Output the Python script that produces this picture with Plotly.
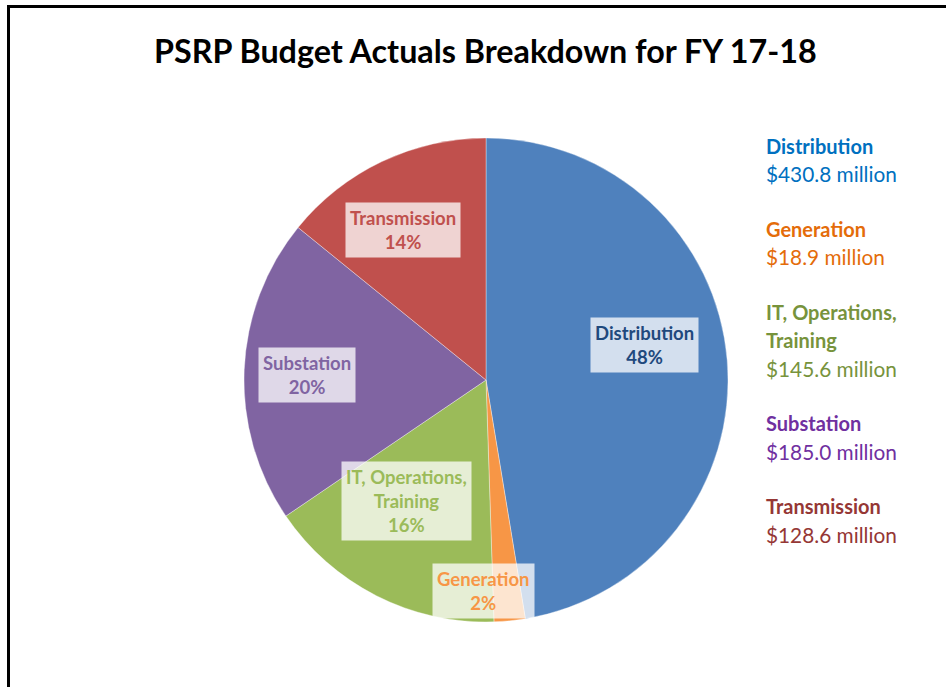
import math
import plotly.graph_objects as go

# ---- data ----
categories = ["Distribution", "Generation", "IT, Operations,<br>Training", "Substation", "Transmission"]
amounts_musd = [430.8, 18.9, 145.6, 185.0, 128.6]
percent_labels = ["48%", "2%", "16%", "20%", "14%"]

# ---- style ----
slice_colors = ["#4F81BD", "#F79646", "#9BBB59", "#8064A2", "#C0504D"]
label_text_colors = ["#1F497D", "#F79646", "#9BBB59", "#8064A2", "#C0504D"]
legend_colors = ["#0070C0", "#E46C0A", "#77933C", "#7030A0", "#953735"]
# label placement tweaks (radius fraction, angular nudge in degrees)
label_radius = [0.67, 0.87, 0.60, 0.74, 0.71]
label_nudge = [-7.7, 6.4, 6.4, -0.8, -3.5]

W, H = 952, 687
FONT = "Lato"

def px(x):
    return x / W

def py(y):
    return 1 - y / H

cx, cy, R = 486, 380, 242

fig = go.Figure()
fig.add_trace(go.Pie(
    labels=categories,
    values=amounts_musd,
    sort=False,
    direction="clockwise",
    rotation=0,
    marker=dict(colors=slice_colors, line=dict(color="rgba(255,255,255,0.6)", width=0.6)),
    textinfo="none",
    hoverinfo="label+value+percent",
    showlegend=False,
    domain=dict(x=[px(cx - R), px(cx + R)], y=[py(cy + R), py(cy - R)]),
))

annotations = []
total = sum(amounts_musd)
cum = 0.0
for i, v in enumerate(amounts_musd):
    mid = (cum + v / 2) / total * 360 + label_nudge[i]
    cum += v
    a = math.radians(mid)
    r = label_radius[i] * R
    lx = cx + r * math.sin(a)
    ly = cy - r * math.cos(a)
    annotations.append(dict(
        x=px(lx), y=py(ly), xref="paper", yref="paper",
        text=f"<b>{categories[i]}<br>{percent_labels[i]}</b>",
        showarrow=False, align="center",
        font=dict(family=FONT, size=18.5, color=label_text_colors[i]),
        bgcolor="rgba(255,255,255,0.75)", borderpad=4,
        xanchor="center", yanchor="middle",
    ))

ly = 146
line_step = 28
group_gap = 27
lx0 = 764
for i, name in enumerate(categories):
    for part in name.split("<br>"):
        annotations.append(dict(
            x=px(lx0), y=py(ly), xref="paper", yref="paper",
            text=f"<b>{part}</b>", showarrow=False,
            font=dict(family=FONT, size=20, color=legend_colors[i]),
            xanchor="left", yanchor="middle",
        ))
        ly += line_step
    annotations.append(dict(
        x=px(lx0), y=py(ly), xref="paper", yref="paper",
        text=f"${amounts_musd[i]:.1f} million", showarrow=False,
        font=dict(family=FONT, size=20.8, color=legend_colors[i]),
        xanchor="left", yanchor="middle",
    ))
    ly += line_step + group_gap

annotations.append(dict(
    x=px(486), y=py(50), xref="paper", yref="paper",
    text="<b>PSRP Budget Actuals Breakdown for FY 17-18</b>", showarrow=False,
    font=dict(family=FONT, size=32.3, color="#000000"),
    xanchor="center", yanchor="middle",
))

fig.update_layout(
    width=W, height=H,
    margin=dict(l=0, r=0, t=0, b=0),
    paper_bgcolor="white",
    plot_bgcolor="white",
    annotations=annotations,
    shapes=[
        dict(type="line", xref="paper", yref="paper",
             x0=px(8.5), y0=0, x1=px(8.5), y1=py(5),
             line=dict(color="black", width=3)),
        dict(type="line", xref="paper", yref="paper",
             x0=px(7), y0=py(6.5), x1=px(946), y1=py(6.5),
             line=dict(color="black", width=3)),
    ],
)

fig.write_html(
    "out.html",
    config={"displayModeBar": False},
    post_script="document.body.style.margin='0';document.body.style.overflow='hidden';",
)
